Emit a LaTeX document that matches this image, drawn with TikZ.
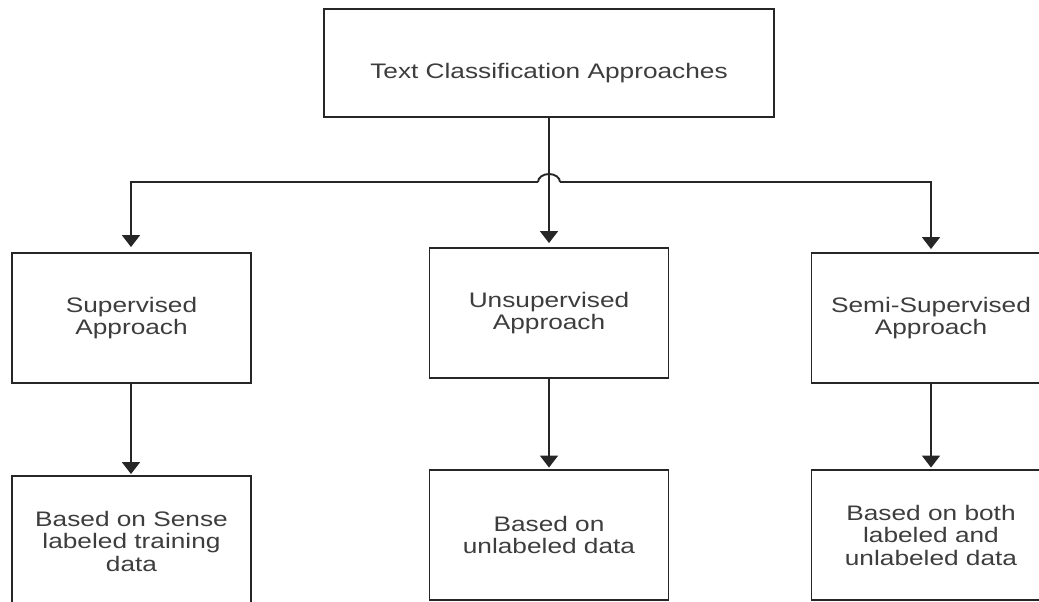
\documentclass[tikz,border=0pt]{standalone}
\usepackage{fontspec}
\setmainfont{Liberation Sans}[FakeStretch=1.25]
\usetikzlibrary{arrows.meta}
\begin{document}
\begin{tikzpicture}[x=1pt,y=-1pt,
  box/.style={draw=black!85, line width=1.9pt, inner sep=0pt, fill=white},
  colbox/.style={box, minimum width=239pt, minimum height=130pt, align=center,
    text=black!76, font=\fontsize{21}{22.5}\selectfont},
  txt/.style={text=black!76, font=\fontsize{21}{22.5}\selectfont, inner sep=0pt},
  link/.style={draw=black!85, line width=1.9pt},
  arrow/.style={link, -{Triangle[width=18pt,length=12pt]}}
]
\clip (0,0) rectangle (1039,602);
\fill[white] (0,0) rectangle (1039,602);

% root
\node[box, minimum width=450pt, minimum height=108pt] (top) at (549,63) {};
\node[txt, anchor=base] (toptext) at (549,78) {Text Classification Approaches};

% approaches
\node[colbox] (sup)  at (131.5,318) {Supervised\\Approach};
\node[colbox] (mid)  at (549,313)   {Unsupervised\\Approach};
\node[colbox] (semi) at (931,318)   {Semi-Supervised\\Approach};

% data used by each approach
\node[colbox] (supd)  at (131.5,541) {Based on Sense\\labeled training\\data};
\node[colbox] (midd)  at (549,535)   {Based on\\unlabeled data};
\node[colbox] (semid) at (931,535)   {Based on both\\labeled and\\unlabeled data};

% branching connectors, the horizontal one hopping over the trunk
\coordinate (junc) at (549,182);
\coordinate (hopL) at (538,182);
\coordinate (hopR) at (560,182);
\draw[arrow, shorten >=4pt] (top.south) -- (mid.north);
\draw[arrow, shorten >=5pt] (hopL) -| (sup.north -| 131,0);
\draw[arrow, shorten >=3pt] (hopR) -| (semi.north);
\draw[link] (hopL) arc[start angle=180, end angle=0, x radius=11pt, y radius=8pt];

% approach to data
\draw[arrow, shorten >=1pt] (sup.south -| 131,0) -- (supd.north -| 131,0);
\draw[arrow, shorten >=1.5pt] (mid.south) -- (midd.north);
\draw[arrow, shorten >=1.5pt] (semi.south) -- (semid.north);
\end{tikzpicture}
\end{document}
